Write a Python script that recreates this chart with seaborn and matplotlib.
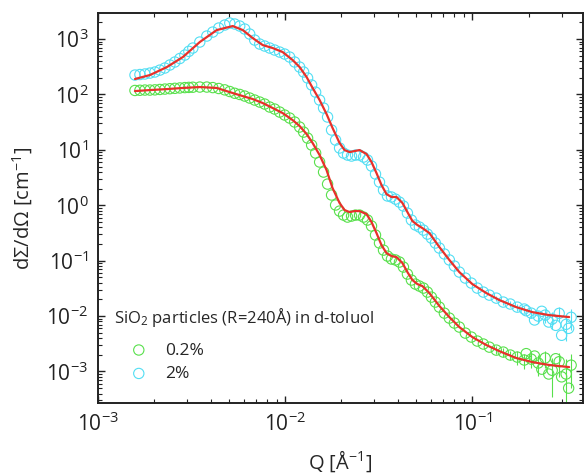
import matplotlib
matplotlib.use('Agg')
import matplotlib.pyplot as plt
import seaborn as sns
import pandas

# measured data (same Q grid for both concentrations)
q_data = [1.576e-3, 1.675e-3, 1.781e-3, 1.894e-3, 2.014e-3, 2.141e-3, 2.277e-3, 2.421e-3,
          2.575e-3, 2.737e-3, 2.911e-3, 3.057e-3, 3.211e-3, 3.499e-3, 3.814e-3, 4.104e-3,
          4.418e-3, 4.756e-3, 5.058e-3, 5.378e-3, 5.718e-3, 6.081e-3, 6.465e-3, 6.875e-3,
          7.311e-3, 7.773e-3, 8.266e-3, 8.790e-3, 9.347e-3, 9.938e-3, 1.057e-2, 1.124e-2,
          1.195e-2, 1.255e-2, 1.318e-2, 1.385e-2, 1.455e-2, 1.528e-2, 1.604e-2, 1.685e-2,
          1.770e-2, 1.860e-2, 1.953e-2, 2.051e-2, 2.154e-2, 2.263e-2, 2.377e-2, 2.497e-2,
          2.623e-2, 2.754e-2, 2.893e-2, 3.039e-2, 3.192e-2, 3.353e-2, 3.522e-2, 3.698e-2,
          3.884e-2, 4.080e-2, 4.285e-2, 4.500e-2, 4.727e-2, 4.966e-2, 5.215e-2, 5.478e-2,
          5.754e-2, 6.043e-2, 6.347e-2, 6.668e-2, 7.089e-2, 7.537e-2, 8.017e-2, 8.524e-2,
          9.177e-2, 9.879e-2, 0.1063, 0.1145, 0.1233, 0.1343, 0.1463, 0.1595,
          0.1738, 0.1894, 0.2064, 0.2249, 0.2450, 0.2671, 0.2911, 0.3172, 0.3373]

i_2pct = [224, 229, 234, 243, 254, 275, 300, 340,
          385, 445, 514, 600, 688, 883, 1133, 1337,
          1580, 1790, 1945, 1866, 1717, 1516, 1231, 959,
          812, 748, 688, 633, 582, 536, 473, 385,
          312, 254, 198, 148, 110, 79.2, 56.9, 39.1,
          22.8, 15.0, 10.8, 8.75, 8.05, 7.73, 8.05, 8.05,
          7.41, 6.55, 5.10, 3.66, 2.62, 1.88, 1.47, 1.41,
          1.29, 1.14, 0.968, 0.723, 0.541, 0.440, 0.404, 0.356,
          0.302, 0.256, 0.208, 0.169, 0.132, 0.103, 0.080, 0.0622,
          0.0485, 0.0394, 0.0320, 0.0271, 0.0239, 0.0211, 0.0179, 0.0165,
          0.0145, 0.0134, 0.0113, 0.0100, 0.0104, 0.0088, 0.0112, 0.0071, 0.0095]

i_02pct = [118, 119, 120, 120, 121, 123, 125, 127,
           129, 131, 133, 134, 135, 136, 136, 133,
           128, 121, 113, 105, 100, 93.5, 86.1, 79.2,
           72.9, 67.1, 59.3, 54.5, 48.1, 42.5, 37.5, 31.8,
           25.8, 20.9, 16.3, 12.2, 8.75, 6.03, 3.97, 2.41,
           1.53, 1.01, 0.785, 0.665, 0.612, 0.638, 0.665, 0.665,
           0.612, 0.541, 0.422, 0.290, 0.208, 0.155, 0.121, 0.107,
           0.103, 0.0944, 0.0766, 0.0573, 0.0447, 0.0378, 0.0348, 0.0320,
           0.0271, 0.0220, 0.0179, 0.0145, 0.0113, 0.0092, 0.00748, 0.00633,
           0.00493, 0.00418, 0.00354, 0.00313, 0.00275, 0.00243, 0.00224, 0.00198,
           0.00182, 0.00161, 0.00167, 0.00142, 0.00175, 0.00105, 0.00150, 0.00090, 0.00130]

# error bars only matter at high Q (last 12 points)
err_2pct = [0.002, 0.002, 0.002, 0.002, 0.002, 0.002, 0.0025, 0.003, 0.003, 0.0035, 0.0035, 0.004]
err_02pct = [0.0004, 0.0004, 0.0004, 0.0005, 0.0005, 0.0005, 0.0006, 0.0006, 0.0007, 0.0007, 0.0008, 0.0008]

# a few scattered extra points at high Q
q_extra = [0.194, 0.215, 0.235, 0.256, 0.279, 0.300, 0.327]
i_2pct_extra = [0.0125, 0.0085, 0.0122, 0.0078, 0.0068, 0.0045, 0.0060]
i_02pct_extra = [0.0021, 0.0019, 0.0011, 0.0009, 0.0017, 0.0008, 0.0005]

# model fits
q_fit = [1.576e-3, 1.894e-3, 2.333e-3, 2.840e-3, 3.499e-3, 4.311e-3, 5.248e-3, 5.934e-3,
         6.709e-3, 7.586e-3, 8.577e-3, 9.698e-3, 1.096e-2, 1.195e-2, 1.302e-2, 1.402e-2,
         1.528e-2, 1.664e-2, 1.792e-2, 1.953e-2, 2.076e-2, 2.208e-2, 2.348e-2, 2.497e-2,
         2.721e-2, 2.893e-2, 3.076e-2, 3.271e-2, 3.479e-2, 3.698e-2, 3.933e-2, 4.233e-2,
         4.500e-2, 4.786e-2, 5.089e-2, 5.411e-2, 5.897e-2, 6.668e-2, 7.537e-2, 8.524e-2,
         0.1000, 0.1188, 0.1393, 0.1717, 0.2089, 0.2574, 0.3291]
fit_2pct = [190, 224, 312, 473, 883, 1453, 1717, 1453,
            1042, 779, 688, 582, 418, 312, 206, 131,
            79.2, 44.3, 24.8, 13.3, 9.91, 9.12, 9.51, 9.91,
            8.40, 6.03, 3.81, 2.32, 1.59, 1.41, 1.41, 1.10,
            0.753, 0.519, 0.440, 0.387, 0.315, 0.176, 0.103, 0.0622,
            0.0378, 0.0260, 0.0195, 0.0145, 0.0118, 0.0104, 0.0096]
fit_02pct = [115, 120, 125, 131, 136, 131, 106, 93.5,
             82.6, 70.0, 56.9, 46.1, 34.5, 26.9, 19.3, 13.3,
             8.05, 4.32, 2.04, 1.10, 0.819, 0.753, 0.785, 0.785,
             0.693, 0.498, 0.315, 0.191, 0.137, 0.121, 0.116, 0.0906,
             0.0622, 0.0447, 0.0378, 0.0348, 0.0260, 0.0152, 0.0096, 0.00633,
             0.00418, 0.00300, 0.00233, 0.00175, 0.00148, 0.00131, 0.00120]

y_ticks = [1e-3, 1e-2, 1e-1, 1e0, 1e1, 1e2, 1e3]
x_ticks = [1e-3, 1e-2, 1e-1]

green = '#58e04c'
cyan = '#52def3'
red = '#e8302a'

sns.set_style('ticks', {'xtick.direction': 'in', 'ytick.direction': 'in'})
plt.rcParams['font.family'] = ['Open Sans', 'DejaVu Sans']
plt.rcParams['mathtext.fontset'] = 'custom'
plt.rcParams['mathtext.rm'] = 'Open Sans'
plt.rcParams['mathtext.it'] = 'Open Sans:italic'

df = pandas.DataFrame({'q': q_data, 'low': i_02pct, 'high': i_2pct})
extra = pandas.DataFrame({'q': q_extra, 'low': i_02pct_extra, 'high': i_2pct_extra})
fit = pandas.DataFrame({'q': q_fit, 'low': fit_02pct, 'high': fit_2pct})

fig = plt.figure(figsize=(5.85, 4.75), dpi=100)
ax = fig.add_axes([0.1675, 0.1516, 0.829, 0.821])
ax.set_xscale('log')
ax.set_yscale('log')

n = len(err_2pct)
ax.errorbar(df['q'][-n:], df['high'][-n:], yerr=err_2pct, fmt='none', ecolor=cyan, elinewidth=0.8)
ax.errorbar(df['q'][-n:], df['low'][-n:], yerr=err_02pct, fmt='none', ecolor=green, elinewidth=0.8)

sns.scatterplot(data=df, x='q', y='low', marker='o', s=55, fc='none', ec=green, linewidth=0.8, ax=ax, label='0.2%')
sns.scatterplot(data=df, x='q', y='high', marker='o', s=55, fc='none', ec=cyan, linewidth=0.8, ax=ax, label='2%')
sns.scatterplot(data=extra, x='q', y='low', marker='o', s=55, fc='none', ec=green, linewidth=0.8, ax=ax)
sns.scatterplot(data=extra, x='q', y='high', marker='o', s=55, fc='none', ec=cyan, linewidth=0.8, ax=ax)

sns.lineplot(data=fit, x='q', y='high', color=red, linewidth=1.6, sort=False, estimator=None, ax=ax)
sns.lineplot(data=fit, x='q', y='low', color=red, linewidth=1.6, sort=False, estimator=None, ax=ax)

ax.set_xlim(1e-3, 0.39)
ax.set_ylim(2.7e-4, 2.95e3)
ax.set_xticks(x_ticks)
ax.set_yticks(y_ticks)
ax.tick_params(which='both', top=True, right=True, direction='in', colors='#222222')
ax.tick_params(which='major', length=5, width=1.0, labelsize=15, pad=7)
ax.tick_params(which='minor', length=3, width=0.8)
for s in ax.spines.values():
    s.set_linewidth(1.4)
    s.set_color('#222222')

ax.set_xlabel('Q [Å$^{-1}$]', fontsize=14.5, labelpad=9)
ax.set_ylabel('d\u03a3/d\u03a9 [cm$^{-1}$]', fontsize=14.5, labelpad=8)

leg = ax.legend(title='SiO$_2$ particles (R=240Å) in d-toluol', loc='upper left',
                bbox_to_anchor=(0.0, 0.29), frameon=False, fontsize=12.5,
                title_fontsize=12, labelspacing=0.42, handlelength=2.9, handletextpad=0.05)
leg._legend_box.align = 'left'
leg._legend_box.sep = 10

fig.savefig('out.png', dpi=100)
